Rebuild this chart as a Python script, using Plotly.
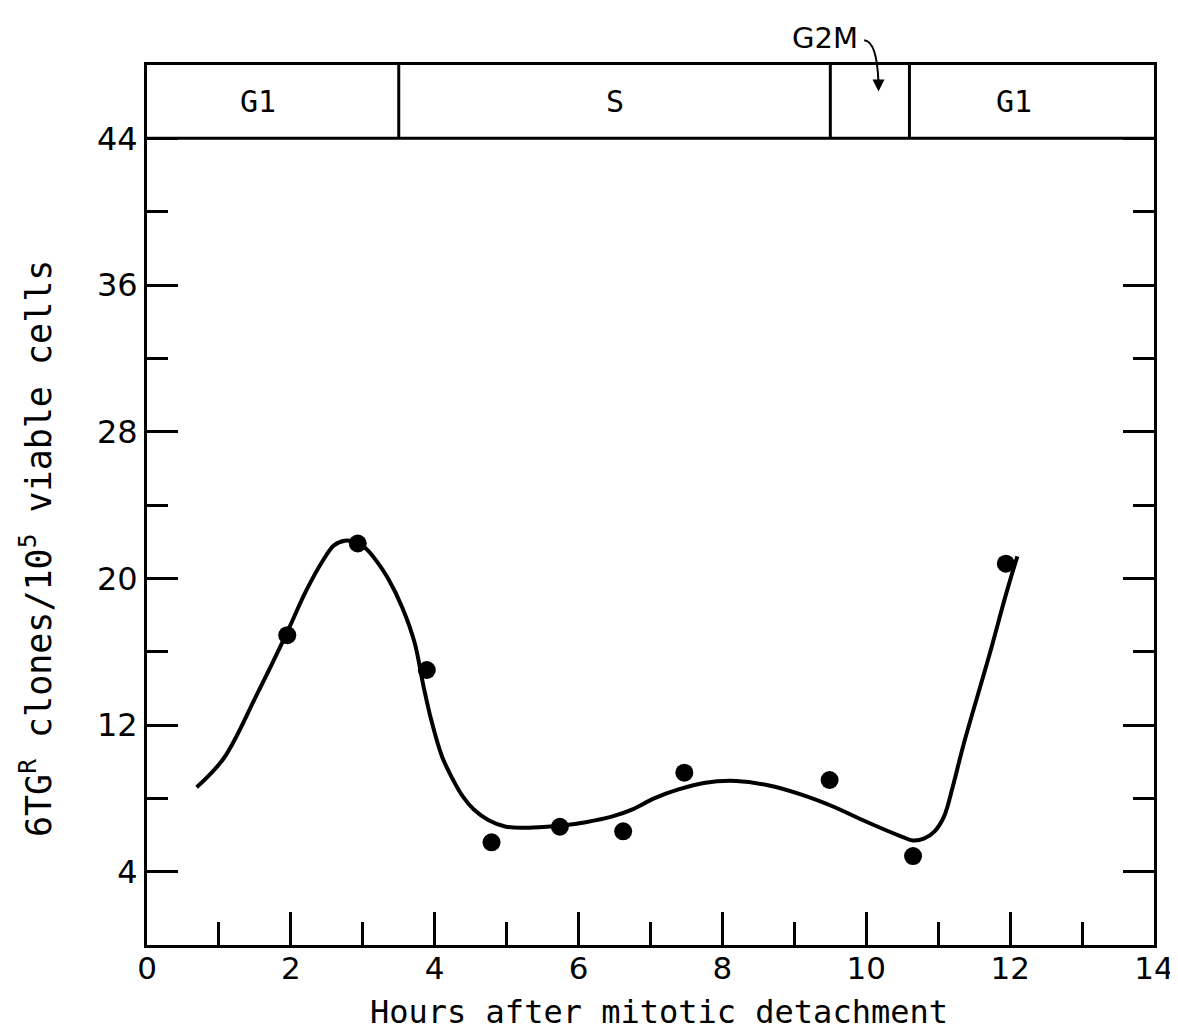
import plotly.graph_objects as go

# Measured data points
hours = [1.95, 2.93, 3.89, 4.79, 5.74, 6.62, 7.47, 9.49, 10.65, 11.94]
clones = [16.9, 21.9, 15.0, 5.6, 6.45, 6.2, 9.4, 9.0, 4.85, 20.8]

# Hand-drawn fitted curve
curve_x = [0.69, 1.07, 1.52, 1.93, 2.21, 2.45, 2.6, 2.75, 2.92, 3.05, 3.2, 3.35, 3.55, 3.72,
           3.85, 3.95, 4.1, 4.27, 4.4, 4.54, 4.75, 4.99, 5.3, 5.74, 6.1, 6.46, 6.75, 7.05,
           7.4, 7.74, 8.19, 8.65, 9.1, 9.57, 9.9, 10.25, 10.5, 10.65, 10.8, 10.95, 11.08,
           11.2, 11.35, 11.71, 11.94, 12.1]
curve_y = [8.6, 10.2, 13.6, 16.9, 19.3, 21.0, 21.8, 22.05, 21.95, 21.6, 20.9, 20.0, 18.4, 16.5,
           14.0, 12.3, 10.3, 8.9, 8.05, 7.4, 6.8, 6.45, 6.4, 6.5, 6.7, 7.0, 7.4, 8.0,
           8.5, 8.84, 8.95, 8.7, 8.2, 7.5, 6.9, 6.3, 5.9, 5.7, 5.8, 6.2, 7.0,
           8.6, 10.9, 15.8, 19.1, 21.2]

# Cell-cycle phase band
phase_labels = ["G1", "S", "G1"]
phase_label_x = [1.55, 6.5, 12.05]
phase_bounds = [3.5, 9.5, 10.6]

x_major = [0, 2, 4, 6, 8, 10, 12, 14]
x_minor = [1, 3, 5, 7, 9, 11, 13]
y_major = [4, 12, 20, 28, 36, 44]
y_minor = [8, 16, 24, 32, 40]

Y_TOP = 48.0
FONT = "DejaVu Sans"
MONO = "DejaVu Sans Mono"

fig = go.Figure()
fig.add_trace(go.Scatter(x=curve_x, y=curve_y, mode="lines",
                         line=dict(color="black", width=4, shape="spline", smoothing=1.0),
                         hoverinfo="skip", showlegend=False))
fig.add_trace(go.Scatter(x=hours, y=clones, mode="markers",
                         marker=dict(color="black", size=18), showlegend=False))

shapes = [dict(type="line", xref="x", yref="y", x0=0, x1=14, y0=44, y1=44,
               line=dict(color="black", width=3))]
for b in phase_bounds:
    shapes.append(dict(type="line", xref="x", yref="y", x0=b, x1=b, y0=44, y1=Y_TOP,
                       line=dict(color="black", width=3)))
# curved arrow from G2M label (y in paper units: value / Y_TOP)
p = lambda v: v / Y_TOP
shapes.append(dict(type="path", xref="x", yref="paper",
                   path=f"M 9.97,{p(49.35)} Q 10.15,{p(49.3)} 10.17,{p(47.0)}",
                   line=dict(color="black", width=2)))

annotations = []
for lab, lx in zip(phase_labels, phase_label_x):
    annotations.append(dict(x=lx, y=46, xref="x", yref="y", text=lab, showarrow=False,
                            font=dict(family=MONO, size=30, color="black")))
annotations.append(dict(x=9.42, y=p(49.45), xref="x", yref="paper", yanchor="middle",
                        text="G2M", showarrow=False,
                        font=dict(family=FONT, size=29, color="black")))
annotations.append(dict(x=10.17, y=46.55, xref="x", yref="y", ax=10.17, ay=47.3,
                        axref="x", ayref="y", text="", showarrow=True,
                        arrowhead=2, arrowsize=1.2, arrowwidth=2, arrowcolor="black"))
annotations.append(dict(x=7.12, y=-0.076, xref="x", yref="paper", yanchor="middle",
                        text="Hours after mitotic detachment", showarrow=False,
                        font=dict(family=MONO, size=32, color="black")))
annotations.append(dict(x=-0.135, y=0.45, xref="paper", yref="paper",
                        text="6TG<sup>R</sup> clones/10<sup>5</sup> viable cells",
                        textangle=-90, showarrow=False,
                        font=dict(family=MONO, size=35, color="black")))

fig.update_layout(
    width=1178, height=1032,
    margin=dict(l=139, r=18, t=57, b=95),
    paper_bgcolor="white", plot_bgcolor="white",
    shapes=shapes, annotations=annotations,
    showlegend=False,
)
fig.update_xaxes(range=[0, 14], tickvals=x_major, ticktext=[str(v) for v in x_major],
                 ticks="inside", ticklen=33, tickwidth=3, tickcolor="black",
                 minor=dict(tickvals=x_minor, ticks="inside", ticklen=23, tickwidth=3,
                            tickcolor="black", showgrid=False),
                 showline=True, linewidth=3, linecolor="black", mirror=True,
                 showgrid=False, zeroline=False, ticklabeloverflow="allow",
                 ticklabelstandoff=-6,
                 tickfont=dict(family=FONT, size=31, color="black"))
fig.update_yaxes(range=[0, Y_TOP], tickvals=y_major, ticktext=[str(v) for v in y_major],
                 ticks="inside", ticklen=31, tickwidth=3, tickcolor="black",
                 minor=dict(tickvals=y_minor, ticks="inside", ticklen=21, tickwidth=3,
                            tickcolor="black", showgrid=False),
                 showline=True, linewidth=3, linecolor="black", mirror="ticks",
                 showgrid=False, zeroline=False,
                 tickfont=dict(family=FONT, size=32, color="black"))

fig.write_html("out.html")
